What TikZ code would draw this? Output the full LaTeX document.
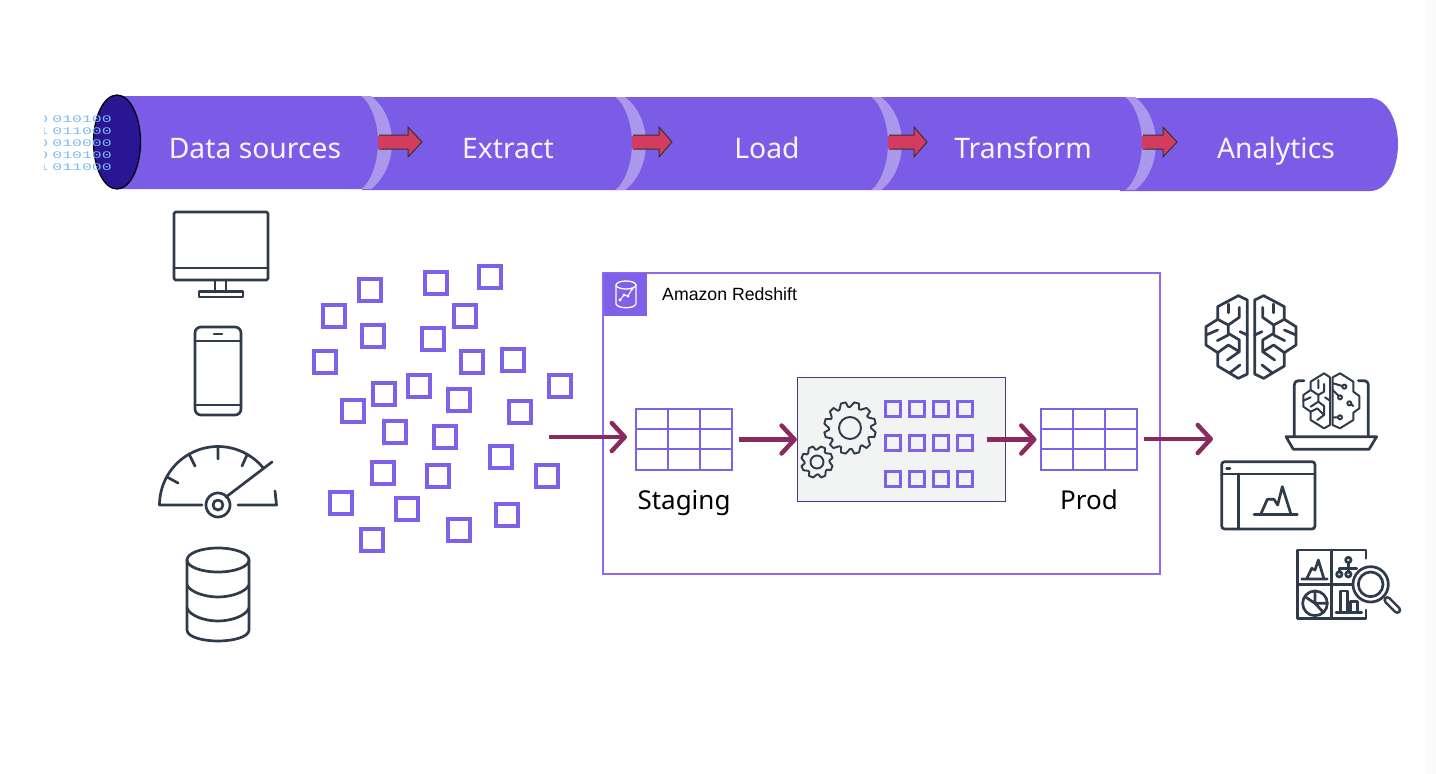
\documentclass[tikz,border=0pt]{standalone}
\usepackage{fontspec}
\setmainfont{Noto Sans}
\newfontfamily\arialfont{Liberation Sans}
\newfontfamily\binfont{Liberation Mono}
\usetikzlibrary{arrows.meta,positioning}
\definecolor{pipe}{HTML}{7A5CE6}
\definecolor{pipelight}{HTML}{A998EC}
\definecolor{pipehole}{HTML}{2A1592}
\definecolor{redarrow}{HTML}{D33C5E}
\definecolor{flowcol}{HTML}{8A2A5E}
\definecolor{chipcol}{HTML}{7F60E8}
\definecolor{iconcol}{HTML}{2F3A4A}
\definecolor{boxcol}{HTML}{9368EA}
\definecolor{bitcol}{HTML}{7DBBF2}
\definecolor{processline}{HTML}{4B3A7A}
\definecolor{processfill}{HTML}{F2F3F3}
\tikzset{
  pipelabel/.style={text=white!93!pipe,anchor=base,inner sep=0pt,font=\fontsize{28.3}{32}\selectfont},
  steplabel/.style={text=black,anchor=base,inner sep=0pt,font=\fontsize{26}{30}\selectfont},
  bits/.style={text=bitcol,font=\binfont\fontsize{10}{12}\selectfont,anchor=west,inner sep=0pt,xscale=1.65,transform shape},
  chip/.style={draw=chipcol,line width=3.4pt,minimum size=22pt,inner sep=0pt},
  minichip/.style={draw=chipcol,line width=2.6pt,minimum size=15pt,inner sep=0pt},
  grid/.style={draw=chipcol,line width=2pt},
  flow/.style={draw=flowcol,line width=4.5pt,-{Straight Barb[length=13pt,width=28pt,round]}},
  icon/.style={draw=iconcol,line width=2.7pt,line join=round,line cap=round},
  smallicon/.style={icon,line width=2pt},
  redtip/.style={fill=redarrow,draw=black!80,line width=1pt,line join=miter}
}
% half a brain, drawn in zoomed units
\newcommand{\halfbrain}{%
  \draw (172,60)--(145,47)--(83,80)--(83,118)--(48,140)--(48,195)--(83,218)--(83,258)--(145,295)--(172,282)--cycle;
  \draw (115,72)--(115,98);
  \draw (148,82)--(148,112)--(115,135)--(83,118);
  \draw (115,135)--(115,160)--(148,180)--(148,215)--(112,240);
  \draw (48,165)--(83,150);
  \draw (172,165)--(150,155);
  \draw (82,182)--(115,165);
  \draw (83,218)--(115,195)--(148,215);
  \draw (120,278)--(150,255);
}
\newcommand{\gearicon}[6]{%
  \draw[icon,line width=1.9pt] ({#1+#4},#2)
    \foreach \g in {1,...,#6}{
      -- ({#1+#3*cos((\g-.68)*360/#6)},{#2+#3*sin((\g-.68)*360/#6)})
      -- ({#1+#3*cos((\g-.32)*360/#6)},{#2+#3*sin((\g-.32)*360/#6)})
      -- ({#1+#4*cos((\g-.16)*360/#6)},{#2+#4*sin((\g-.16)*360/#6)})
      -- ({#1+#4*cos(\g*360/#6)},{#2+#4*sin(\g*360/#6)})
    } -- cycle;
  \draw[icon,line width=1.9pt] (#1,#2) circle[radius=#5];
}
\begin{document}
\begin{tikzpicture}[x=1pt,y=-1pt]
  \useasboundingbox (0,0) rectangle (1436,774);
  \fill[black!2] (1426,0) rectangle (1436,774);

  % pipeline, last section first
  \fill[pipe] (1120,98) -- (1370,98) .. controls (1388,98) and (1398,122) .. (1398,144)
    .. controls (1398,167) and (1388,191) .. (1370,191) -- (1120,191) -- cycle;
  \foreach \l/\r/\t in {872/1127/97, 616/873/97, 362/617/97, 118/363/96}{
    \fill[pipelight] (\r-5,\t) -- (\r+8,\t) .. controls (\r+20,\t+9) and (\r+29,\t+26) .. (\r+29,\t+46)
      .. controls (\r+29,\t+67) and (\r+20,\t+84) .. (\r+8,\t+93) -- (\r-5,\t+93) -- cycle;
    \fill[pipe] (\l,\t) -- (\r-2,\t) .. controls (\r+7,\t+6) and (\r+15,\t+26) .. (\r+15,\t+46)
      .. controls (\r+15,\t+67) and (\r+7,\t+87) .. (\r-2,\t+93) -- (\l,\t+93) -- cycle;
  }
  \foreach \a/\b/\c in {379/408/422, 633/659/672, 889/914/927, 1143/1163/1177}{
    \draw[redtip] (\a,135) -- (\b,135) -- (\b,127) -- (\c,142) -- (\b,157) -- (\b,149) -- (\a,149);
    \fill[redarrow] (\a-1,135.5) rectangle (\a+3,148.5);
  }

  % bits going in
  \fill[pipehole] (117,142) ellipse[x radius=23.5,y radius=47];
  \draw[black,line width=1.2pt] (117,142) ellipse[x radius=23.5,y radius=47];
  \begin{scope}
    \clip (44.5,100) rectangle (113,180);
    \foreach \h/\b/\y [count=\n] in {0/010100/119, 1/011000/131, 0/010000/143, 0/010100/155, 1/011000/167}
      \node[bits] (bits\n) at (38,\y) {\h\kern2.5pt\b};
  \end{scope}

  \node[pipelabel] (sources) at (255,158.5) {Data sources};
  \node[pipelabel] (extract) at (508,158.5) {Extract};
  \node[pipelabel] (load) at (767,158.5) {Load};
  \node[pipelabel] (transform) at (1023,158) {Transform};
  \node[pipelabel] (analytics) at (1276,158) {Analytics};

  % data sources
  \draw[icon,rounded corners=1.5pt] (174,212) rectangle (268,280);
  \draw[icon] (174,268) -- (268,268);
  \draw[icon] (215,280) -- (215,292) (226,280) -- (226,292);
  \draw[icon] (199,291.5) rectangle (243,297);

  \draw[icon,rounded corners=6pt] (195,327) rectangle (241,415);
  \draw[icon] (195,341) -- (241,341) (195,405) -- (241,405) (214,334) -- (222,334);

  \draw[icon] (202,505) -- (160,505) -- plot[domain=180:39,samples=40] ({218+58.5*cos(\x)},{505-58.5*sin(\x)});
  \draw[icon] (238,505) -- (276.5,505) -- (275,491);
  \draw[icon] (226,497) -- (272,462);
  \draw[icon] (226.5,497.5) -- plot[domain=40:-318,samples=40] ({218+12*cos(\x)},{505-12*sin(\x)});
  \draw[icon] (218,505) circle[radius=5];
  \draw[icon] (167,477) -- (178,483) (189,454) -- (195,466) (218,447) -- (218,459) (247,455) -- (242,466);

  \draw[icon] (218,560) ellipse[x radius=31,y radius=12];
  \draw[icon] (187,560) -- (187,630) .. controls (187,637) and (203,641) .. (218,641)
    .. controls (233,641) and (249,637) .. (249,630) -- (249,560);
  \draw[icon] (187,585) .. controls (190,592) and (205,597) .. (218,597) .. controls (231,597) and (246,592) .. (249,585);
  \draw[icon] (187,608) .. controls (190,616) and (205,621) .. (218,621) .. controls (231,621) and (246,616) .. (249,608);

  % scattered data
  \foreach \x/\y [count=\n] in {370/290, 436/283, 490/277, 334/316, 465/316, 373/336, 433/339,
      325/362, 472/362, 513/360, 384/394, 419/386, 459/400, 560/386, 353/411, 520/412, 395/432,
      445/437, 501/457, 383/473, 438/476, 547/476, 341/503, 407/509, 507/515, 459/530, 372/540}
    \node[chip] (chip\n) at (\x,\y) {};
  \coordinate (scatter) at (549,437);

  % redshift
  \node[draw=boxcol,line width=2pt,minimum width=557pt,minimum height=301pt,inner sep=0pt] (redshift) at (881.5,423.5) {};
  \node[fill=chipcol,minimum size=43pt,inner sep=0pt] (rsicon) at (625.5,294) {};
  \draw[white,line width=1.3pt] (626,285) ellipse[x radius=10,y radius=4];
  \draw[white,line width=1.3pt] (616,285) -- (616,304) .. controls (618,309) and (634,309) .. (636,304) -- (636,285);
  \draw[white,line width=1pt] (620,300) -- (624,295) -- (628,296) -- (632,289);
  \foreach \x/\y in {620/300, 624/295, 628/296, 632/289}
    \fill[white] (\x,\y) circle[radius=1.6];
  \node[anchor=west,inner sep=0pt,font=\arialfont\fontsize{17.7}{20}\selectfont] (rstitle) at (662,294.5) {Amazon Redshift};

  \node[draw=chipcol,line width=2pt,minimum width=96pt,minimum height=61pt,inner sep=0pt] (staging) at (684,439) {};
  \draw[grid] (668,408.5) -- (668,469.5) (700,408.5) -- (700,469.5) (636,429) -- (732,429) (636,449) -- (732,449);
  \node[steplabel] (staginglabel) at (684,509) {Staging};

  \node[draw=chipcol,line width=2pt,minimum width=96pt,minimum height=61pt,inner sep=0pt] (prod) at (1088.5,439) {};
  \draw[grid] (1072.5,408.5) -- (1072.5,469.5) (1104.5,408.5) -- (1104.5,469.5) (1040.5,429) -- (1136.5,429) (1040.5,449) -- (1136.5,449);
  \node[steplabel] (prodlabel) at (1089,509) {Prod};

  \node[draw=processline,fill=processfill,line width=1.4pt,minimum width=208pt,minimum height=124pt,inner sep=0pt] (process) at (901.5,439.5) {};
  \gearicon{850}{428}{26}{21}{11}{12}
  \gearicon{817}{462}{16}{12.5}{6.5}{8}
  \foreach \y in {409,443,479}
    \foreach \x in {893,917,941,965}
      \node[minichip] (mini\x\y) at (\x,\y) {};

  \draw[flow,shorten >=8pt] (scatter) -- (staging.west |- scatter);
  \draw[flow,shorten <=6pt] (staging.east |- process.west) -- (process.west);
  \draw[flow,shorten <=-19pt,shorten >=3pt] (process.east) -- (prod.west |- process.east);
  \coordinate (output) at (1213,439);
  \draw[flow,shorten <=6pt] (prod.east) -- (output);

  % analytics icons
  \begin{scope}[shift={(1190,280)},scale=1/3,icon]
    \begin{scope}[every path/.style={icon}]
      \halfbrain
    \end{scope}
    \begin{scope}[shift={(366,0)},xscale=-1,every path/.style={icon}]
      \halfbrain
    \end{scope}
  \end{scope}
  \begin{scope}[shift={(1190,280)},scale=1/3,icon]
    \draw[rounded corners=4pt] (313,470) -- (313,302) -- (342,302);
    \draw[rounded corners=4pt] (505,302) -- (535,302) -- (535,470);
    \draw (288,470) -- (560,470) -- (537,508) -- (310,508) -- cycle;
    \begin{scope}[every path/.style={smallicon}]
      \draw (420,292) -- (402,280) -- (362,305) -- (362,330) -- (340,345) -- (340,380) -- (362,395)
        -- (362,420) -- (402,445) -- (420,435) -- cycle;
      \draw (428,292) -- (450,280) -- (490,305) -- (490,335) -- (508,348) -- (508,385) -- (490,398)
        -- (490,420) -- (450,445) -- (428,435) -- cycle;
      \draw (385,300) -- (385,325) (402,312) -- (402,335) -- (385,345) -- (362,330);
      \draw (385,345) -- (385,365) -- (402,378) -- (402,405) -- (382,420);
      \draw (340,362) -- (362,352) (362,380) -- (385,365) (362,395) -- (382,385) -- (402,405);
      \draw (420,362) -- (405,352);
      \draw (428,330) -- (450,352) (430,310) -- (463,320) (490,378) -- (478,370) (428,412) -- (450,412);
      \draw[fill=white] (463,320) circle[radius=6];
      \draw[fill=white] (450,352) circle[radius=6];
      \draw[fill=white] (478,370) circle[radius=6];
      \draw[fill=white] (450,412) circle[radius=6];
    \end{scope}
  \end{scope}
  \begin{scope}[shift={(1210,455)},scale=1/3,every path/.style={icon}]
    \draw[rounded corners=3pt] (35,20) rectangle (315,222);
    \draw (35,57) -- (315,57) (85,57) -- (85,222) (50,40) -- (60,40);
    \draw (132,178) -- (262,178);
    \draw (152,178) -- (172,133) -- (192,133) -- (203,150) -- (217,95) -- (243,178);
    % dashboard
    \draw (468,310) -- (468,285) -- (262,285) -- (262,490) -- (468,490) -- (468,465);
    \draw (365,285) -- (365,490) (262,388) -- (430,388);
    \draw (275,372) -- (352,372) (290,372) -- (305,340) -- (315,345) -- (325,315) -- (342,372);
    \draw (415,322) -- (415,340) (388,352) -- (388,340) -- (440,340) (415,340) -- (415,352);
    \draw (415,315) circle[radius=8] (388,358) circle[radius=8] (415,358) circle[radius=8];
    \draw (315,445) circle[radius=37];
    \draw (315,408) -- (315,445) -- (352,445) (315,445) -- (285,425) (315,445) -- (340,472);
    \draw (378,473) -- (455,473);
    \draw (392,473) -- (392,408) -- (412,408) -- (412,473) (422,473) -- (422,440) -- (442,440) -- (442,473);
    \draw[fill=white] (482,388) circle[radius=53];
    \draw (482,388) circle[radius=37];
    \draw[line width=8pt] (532,435) -- (562,465);
    \draw[draw=white,line width=3pt] (532,435) -- (562,465);
  \end{scope}
\end{tikzpicture}
\end{document}
